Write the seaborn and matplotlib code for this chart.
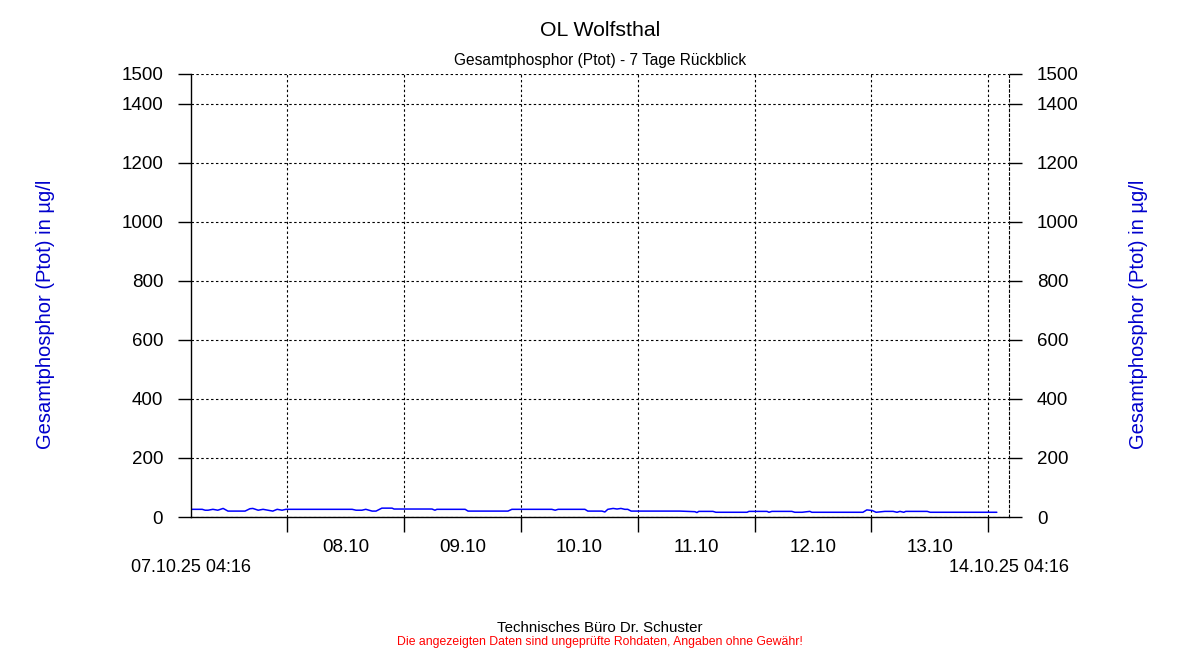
import numpy as np
import pandas as pd
import matplotlib
matplotlib.use("Agg")
import matplotlib.pyplot as plt
import matplotlib.dates as mdates
import seaborn as sns

# ---- data ----
start_time = "2025-10-07 04:16"
end_time = "2025-10-14 04:16"
day_labels = ["08.10", "09.10", "10.10", "11.10", "12.10", "13.10"]
hours = [0.2, 2.3, 2.9, 3.5, 4.5, 5.5, 6.6, 7.6, 11.1, 12.1, 12.7, 13.8, 14.8, 15.8,
         16.8, 17.7, 18.7, 19.5, 33.1, 33.9, 35.1, 35.9, 37.2, 38.0, 39.2, 41.3, 41.7,
         49.5, 50.1, 50.5, 56.3, 56.9, 65.1, 65.9, 74.1, 74.8, 75.4, 80.9, 81.5, 84.4,
         85.0, 85.6, 86.7, 87.5, 88.3, 89.1, 89.7, 90.4, 100.4, 103.5, 103.9, 104.3,
         107.2, 107.8, 114.2, 114.6, 118.3, 118.7, 119.3, 123.4, 124.0, 125.5, 127.1,
         127.5, 138.0, 138.8, 139.9, 140.7, 142.5, 144.2, 145.0, 145.6, 146.4, 146.8,
         147.3, 151.2, 151.8, 165.5]
ptot = [26, 26, 23, 23, 26, 23, 29, 20, 20, 28, 29, 23, 26, 23,
        20, 26, 23, 26, 26, 23, 23, 26, 20, 20, 30, 30, 27,
        27, 23, 26, 26, 20, 20, 26, 26, 23, 26, 26, 20, 20,
        17, 26, 29, 27, 29, 26, 26, 20, 20, 18, 15, 19,
        19, 16, 16, 19, 19, 16, 19, 19, 16, 16, 19,
        16, 16, 24, 22, 16, 19, 19, 16, 19, 16, 19,
        19, 19, 16, 16]
yticks = [0, 200, 400, 600, 800, 1000, 1200, 1400, 1500]

title = "OL Wolfsthal"
subtitle = "Gesamtphosphor (Ptot) - 7 Tage Rückblick"
ylabel = "Gesamtphosphor (Ptot) in µg/l"
footer1 = "Technisches Büro Dr. Schuster"
footer2 = "Die angezeigten Daten sind ungeprüfte Rohdaten, Angaben ohne Gewähr!"

t0 = pd.Timestamp(start_time)
t1 = pd.Timestamp(end_time)
df = pd.DataFrame({"time": t0 + pd.to_timedelta(hours, unit="h"), "ptot": ptot})

# ---- style ----
sns.set_style("white")
plt.rcParams["font.family"] = ["Liberation Sans", "DejaVu Sans"]
plt.rcParams["text.color"] = "black"
plt.rcParams["xtick.color"] = "black"
plt.rcParams["ytick.color"] = "black"
plt.rcParams["axes.labelcolor"] = "black"

fig = plt.figure(figsize=(12, 6.5), dpi=100)
ax = fig.add_axes([191 / 1200, 1 - 517 / 650, 818 / 1200, 443 / 650])

sns.lineplot(data=df, x="time", y="ptot", ax=ax, color="#0000ff", linewidth=1.1)

ax.set_xlim(t0, t1)
ax.set_ylim(0, 1500)

dash = (0, (2.2, 2.2))
# midnight ticks (unlabelled) and noon labels for the full days
midnights = pd.date_range(t0.normalize() + pd.Timedelta(days=1), t1, freq="D")
noons = [pd.Timestamp(f"2025-{d[3:5]}-{d[0:2]} 12:00") for d in day_labels]
ax.set_xticks(mdates.date2num(midnights))
ax.set_xticklabels([])
ax.set_xticks(mdates.date2num(noons), minor=True)
ax.set_xticklabels(day_labels, minor=True)
ax.tick_params(axis="x", which="major", direction="out", length=11, width=1, color="black", bottom=True)
ax.tick_params(axis="x", which="minor", length=0, pad=15.5, labelsize=13.5)
ax.grid(True, axis="x", which="major", color="black", linestyle=dash, linewidth=0.8)
ax.grid(True, axis="y", which="major", color="black", linestyle=dash, linewidth=0.8)

ax.set_yticks(yticks)
ax.set_yticklabels([str(v) for v in yticks])
ax.tick_params(axis="y", direction="out", length=9.5, width=1, color="black", left=True, labelsize=13.5, pad=10.5)

for s in ["top", "right"]:
    ax.spines[s].set_visible(False)
for s in ["left", "bottom"]:
    ax.spines[s].set_color("black")
    ax.spines[s].set_linewidth(1)

ax.set_xlabel("")
ax.set_ylabel("")

# right axis
ax2 = ax.twinx()
ax2.set_ylim(0, 1500)
ax2.set_yticks(yticks)
ax2.set_yticklabels([str(v) for v in yticks])
ax2.tick_params(axis="y", direction="out", length=9.5, width=1, color="black", right=True, labelsize=13.5, pad=10.5)
for s in ["top", "left", "bottom"]:
    ax2.spines[s].set_visible(False)
ax2.spines["right"].set_linestyle(dash)
ax2.spines["right"].set_linewidth(0.8)
ax2.spines["right"].set_color("black")

# y labels on both sides
fig.text(46 / 1200, 1 - 314 / 650, ylabel, rotation=90, ha="center", va="center",
         fontsize=14.5, color="#0000cc")
fig.text(1138 / 1200, 1 - 314 / 650, ylabel, rotation=90, ha="center", va="center",
         fontsize=14.5, color="#0000cc")

# start/end labels
trans = matplotlib.transforms.blended_transform_factory(ax.transData, ax.transAxes)
ax.text(mdates.date2num(t0), -0.113, t0.strftime("%d.%m.%y %H:%M"), transform=trans,
        ha="center", va="center", fontsize=13)
ax.text(mdates.date2num(t1), -0.113, t1.strftime("%d.%m.%y %H:%M"), transform=trans,
        ha="center", va="center", fontsize=13)

fig.text(0.5, 1 - 31 / 650, title, ha="center", va="center", fontsize=15.3)
fig.text(0.5, 1 - 60 / 650, subtitle, ha="center", va="center", fontsize=11.2)
fig.text(0.5, 1 - 628 / 650, footer1, ha="center", va="center", fontsize=10.8)
fig.text(0.5, 1 - 642 / 650, footer2, ha="center", va="center", fontsize=8.8, color="#ff0000")

fig.savefig("out.png", dpi=100, facecolor="white")
